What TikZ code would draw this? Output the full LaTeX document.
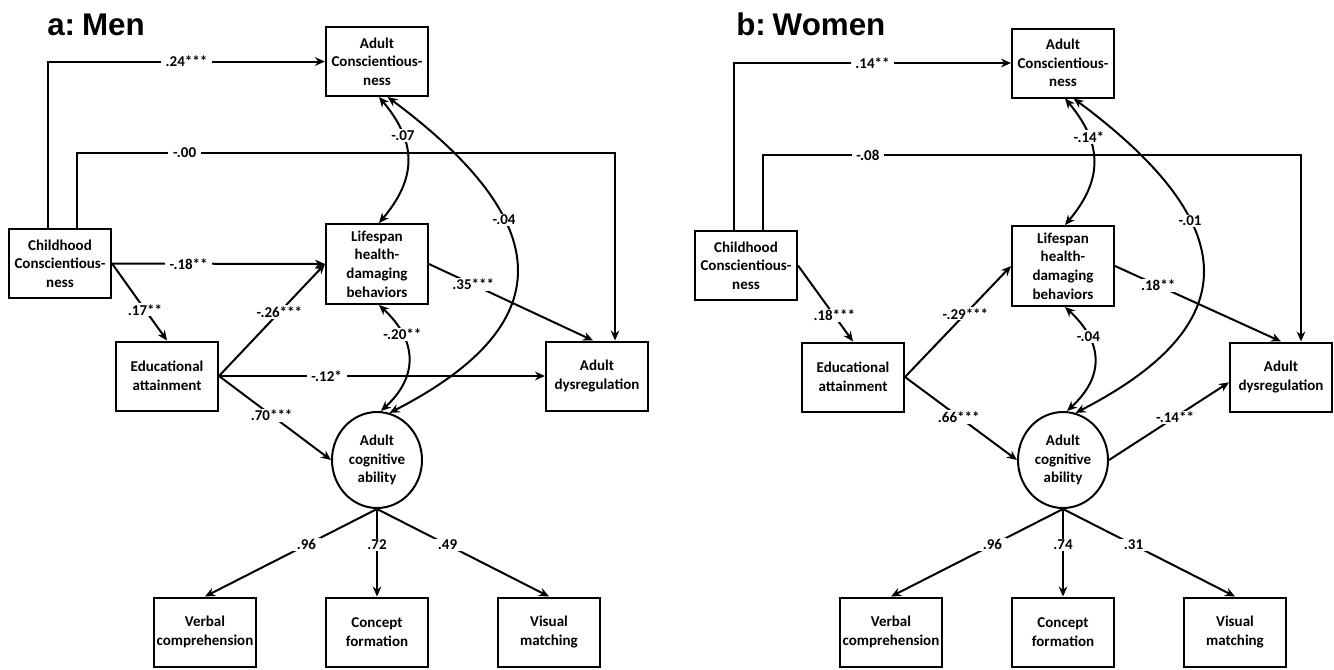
\documentclass[tikz,border=0pt]{standalone}
\usepackage{fontspec}
\setmainfont{Carlito}
\newfontfamily\titlefont{Liberation Sans}
\usetikzlibrary{arrows.meta,shapes.geometric}
\begin{document}
\begin{tikzpicture}[x=0.75pt,y=-0.75pt,
  txt/.style={font=\fontsize{11.25}{13.9}\selectfont\bfseries},
  box/.style={txt,draw,line width=1.5pt,minimum width=76.5pt,minimum height=51.75pt,align=center,inner sep=1pt},
  tallbox/.style={box,minimum height=60pt},
  cog/.style={txt,ellipse,draw,line width=1.5pt,minimum width=67.5pt,minimum height=72pt,inner sep=0pt,align=center},
  lbl/.style={txt,fill=white,inner xsep=3.5pt,inner ysep=1pt},
  ttl/.style={font=\fontsize{23.5}{27}\selectfont\titlefont\bfseries,anchor=base west,inner sep=0pt},
  arr/.style={line width=1.5pt,-{Stealth[length=7.5pt,width=6.5pt]}},
  dbl/.style={line width=1.5pt,{Stealth[length=7.5pt,width=6.5pt]}-{Stealth[length=7.5pt,width=6.5pt]}}]
\useasboundingbox[fill=white] (0,0) rectangle (1334,669);

% ---------------- panel a: Men ----------------
\node[ttl] (aT) at (47,35) {a:\hspace{0.22em}Men};
\node[box] (aAC) at (377,61.5) {Adult\\Conscientious-\\ness};
\node[tallbox] (aLS) at (377,264) {Lifespan\\health-\\damaging\\behaviors};
\node[box] (aCC) at (60,263.5) {Childhood\\Conscientious-\\ness};
\node[box] (aED) at (167,376) {Educational\\attainment};
\node[box] (aDY) at (597,376) {Adult\\dysregulation};
\node[cog] (aCG) at (377,460) {Adult\\cognitive\\ability};
\node[box] (aVC) at (205,632) {Verbal\\comprehension};
\node[box] (aCF) at (377,632) {Concept\\formation};
\node[box] (aVM) at (549,632) {Visual\\matching};
\coordinate (a1) at (48,61.5);
\coordinate (a2) at (77,153);
\coordinate (a3) at (615,153);
\draw[arr] (aCC.north -| a1) -- (a1) -- node[lbl]{.24***} (aAC.west);
\draw[arr] (aCC.north -| a2) -- (a2) -- node[lbl,pos=0.2]{-.00} (a3) -- (aDY.north -| a3);
\draw[arr] (aCC.east) -- node[lbl,pos=0.36]{-.18**} (aLS.west);
\draw[arr] (aCC.east) -- node[lbl,pos=0.6]{.17**} (aED.north);
\draw[arr] (aED.east) -- node[lbl,pos=0.57]{-.26***} (aLS.west);
\draw[arr] (aED.east) -- node[lbl,pos=0.33]{-.12*} (aDY.west);
\draw[arr] (aED.east) -- node[lbl,pos=0.47]{.70***} (aCG.west);
\draw[arr] (aLS.east) -- node[lbl,pos=0.27]{.35***} ([xshift=-3pt]aDY.north);
\draw[arr] (aCG.south) -- node[lbl,pos=0.41]{.96} (aVC.north);
\draw[arr] (aCG.south) -- node[lbl,pos=0.41]{.72} (aCF.north);
\draw[arr] (aCG.south) -- node[lbl,pos=0.41]{.49} (aVM.north);
\draw[dbl] ([xshift=1.5pt]aAC.south) .. controls +(38,45) and +(38,-45) .. ([xshift=1.5pt]aLS.north) node[lbl,pos=0.3]{-.07};
\draw[dbl] ([xshift=1.5pt]aLS.south) .. controls +(38,35) and +(38,-35) .. ([xshift=3pt]aCG.north) node[lbl,pos=0.28]{-.20**};
\draw[dbl] ([xshift=8pt]aAC.south) .. controls +(160,119) and +(181,-93) .. (aCG.75) node[lbl,pos=0.36]{-.04};

% ---------------- panel b: Women ----------------
\begin{scope}[xshift=514.5pt]
\node[ttl] (bT) at (50,35) {b:\hspace{0.22em}Women};
\node[box] (bAC) at (377,63) {Adult\\Conscientious-\\ness};
\node[tallbox] (bLS) at (377,266) {Lifespan\\health-\\damaging\\behaviors};
\node[box] (bCC) at (60,265.5) {Childhood\\Conscientious-\\ness};
\node[box] (bED) at (167,377) {Educational\\attainment};
\node[box] (bDY) at (595,377) {Adult\\dysregulation};
\node[cog] (bCG) at (377,460) {Adult\\cognitive\\ability};
\node[box] (bVC) at (205,632) {Verbal\\comprehension};
\node[box] (bCF) at (377,632) {Concept\\formation};
\node[box] (bVM) at (549,632) {Visual\\matching};
\coordinate (b1) at (48,63);
\coordinate (b2) at (77,155);
\coordinate (b3) at (615,155);
\draw[arr] (bCC.north -| b1) -- (b1) -- node[lbl]{.14**} (bAC.west);
\draw[arr] (bCC.north -| b2) -- (b2) -- node[lbl,pos=0.195]{-.08} (b3) -- (bDY.north -| b3);
\draw[arr] (bCC.east) -- node[lbl,pos=0.66]{.18***} (bED.north);
\draw[arr] (bED.east) -- node[lbl,pos=0.57]{-.29***} (bLS.west);
\draw[arr] (bED.east) -- node[lbl,pos=0.48]{.66***} (bCG.west);
\draw[arr] (bLS.east) -- node[lbl,pos=0.26]{.18**} (bDY.north);
\draw[arr] (bCG.east) -- node[lbl,pos=0.55]{-.14**} ([yshift=-4pt]bDY.west);
\draw[arr] (bCG.south) -- node[lbl,pos=0.41]{.96} (bVC.north);
\draw[arr] (bCG.south) -- node[lbl,pos=0.41]{.74} (bCF.north);
\draw[arr] (bCG.south) -- node[lbl,pos=0.41]{.31} (bVM.north);
\draw[dbl] ([xshift=1.5pt]bAC.south) .. controls +(38,45) and +(38,-45) .. ([xshift=1.5pt]bLS.north) node[lbl,pos=0.3]{-.14*};
\draw[dbl] ([xshift=1.5pt]bLS.south) .. controls +(38,35) and +(38,-35) .. ([xshift=3pt]bCG.north) node[lbl,pos=0.28]{-.04};
\draw[dbl] ([xshift=8pt]bAC.south) .. controls +(160,119) and +(181,-93) .. (bCG.75) node[lbl,pos=0.36]{-.01};
\end{scope}
\end{tikzpicture}
\end{document}
